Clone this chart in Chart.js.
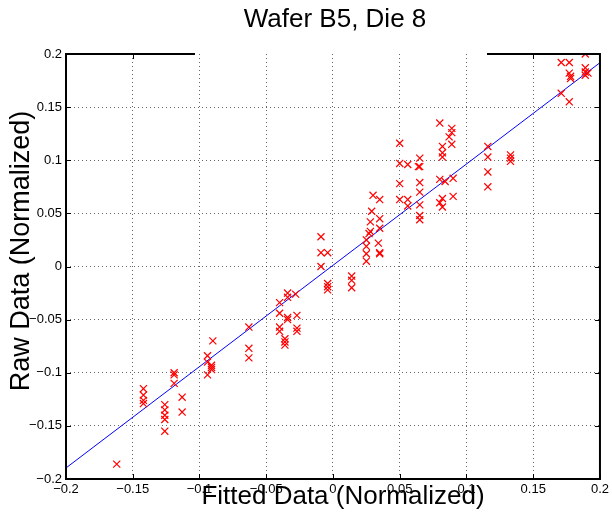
<!DOCTYPE html>
<html>
<head>
<meta charset="utf-8">
<title>Wafer B5, Die 8</title>
<script src="https://cdn.jsdelivr.net/npm/chart.js@4/dist/chart.umd.min.js"></script>
<style>
  html, body { margin: 0; padding: 0; background: #fff; }
  canvas { display: block; }
</style>
</head>
<body>
<canvas id="chart" width="612" height="518"></canvas>
<script>
// fitted (x) vs raw (y) values
const fittedX = [
  -0.162,
  -0.142, -0.142, -0.142, -0.142,
  -0.126, -0.126, -0.126, -0.126, -0.126,
  -0.119, -0.119, -0.119,
  -0.113, -0.113,
  -0.094, -0.094, -0.094,
  -0.091, -0.091, -0.091,
  -0.090,
  -0.063, -0.063, -0.063,
  -0.040, -0.040, -0.040, -0.040,
  -0.036, -0.036, -0.036,
  -0.034, -0.034, -0.034, -0.034,
  -0.028,
  -0.027, -0.027, -0.027,
  -0.009, -0.009, -0.009,
  -0.004, -0.004, -0.004, -0.004,
  0.014, 0.014, 0.014,
  0.025, 0.025, 0.025, 0.025,
  0.027, 0.028, 0.028, 0.029, 0.030,
  0.034, 0.035, 0.035,
  0.035, 0.035, 0.035,
  0.050, 0.050, 0.050, 0.050,
  0.056, 0.056, 0.056,
  0.064,
  0.065, 0.065, 0.065, 0.065, 0.065, 0.065, 0.065,
  0.080, 0.080, 0.080,
  0.082, 0.082, 0.082, 0.082, 0.082,
  0.084, 0.087,
  0.089, 0.089, 0.089,
  0.090, 0.090,
  0.116, 0.116, 0.116, 0.116,
  0.133, 0.133, 0.133,
  0.171, 0.171,
  0.177, 0.177, 0.177,
  0.178, 0.178,
  0.189, 0.189, 0.189, 0.189,
  0.191
]
const rawY = [
  -0.186,
  -0.115, -0.121, -0.126, -0.129,
  -0.130, -0.135, -0.140, -0.144, -0.155,
  -0.100, -0.102, -0.110,
  -0.123, -0.137,
  -0.084, -0.090, -0.102,
  -0.093, -0.095, -0.097,
  -0.070,
  -0.057, -0.077, -0.086,
  -0.034, -0.044, -0.057, -0.061,
  -0.068, -0.071, -0.074,
  -0.025, -0.029, -0.048, -0.050,
  -0.026,
  -0.046, -0.058, -0.061,
  0.028, 0.013, 0.000,
  0.013, -0.016, -0.019, -0.022,
  -0.009, -0.013, -0.020,
  0.025, 0.019, 0.012, 0.005,
  0.031, 0.033, 0.042, 0.052, 0.067,
  0.022, 0.012, 0.013,
  0.036, 0.045, 0.063,
  0.116, 0.097, 0.078, 0.063,
  0.096, 0.063, 0.057,
  0.094,
  0.102, 0.094, 0.079, 0.070, 0.058, 0.048, 0.044,
  0.135, 0.082, 0.060,
  0.113, 0.107, 0.103, 0.064, 0.056,
  0.080, 0.122,
  0.130, 0.126, 0.115,
  0.083, 0.066,
  0.113, 0.103, 0.089, 0.075,
  0.105, 0.102, 0.099,
  0.163, 0.192,
  0.155, 0.192, 0.182,
  0.179, 0.177,
  0.200, 0.187, 0.183, 0.180,
  0.182
]
const fitLineX = [-0.2, 0.2]
const fitLineY = [-0.1896, 0.1918]

const xTickLabels = ['\u22120.2', '\u22120.15', '\u22120.1', '\u22120.05', '0', '0.05', '0.1', '0.15', '0.2']
const yTickLabels = ['\u22120.2', '\u22120.15', '\u22120.1', '\u22120.05', '0', '0.05', '0.1', '0.15', '0.2']

const FONT = "'Liberation Sans', Arial, sans-serif"
Chart.defaults.font.family = FONT
Chart.defaults.color = '#000'

const isEdge = v => Math.abs(Math.abs(v) - 0.2) < 1e-9
const gridColor = ctx => isEdge(ctx.tick.value) ? 'rgba(0,0,0,0)' : 'rgba(0,0,0,0.6)'

// matlab-ish box with inward ticks, title and the two big axis labels that overlap the tick text
const frame = {
  id: 'frame',
  afterDraw(chart) {
    const { ctx, chartArea: a, scales: { x, y } } = chart
    const topSegs = [[a.left, 195], [487, a.right]]
    ctx.save()
    ctx.strokeStyle = '#000'
    ctx.lineWidth = 2
    ctx.beginPath()
    ctx.moveTo(a.left, a.top - 1)
    ctx.lineTo(a.left, a.bottom)
    ctx.lineTo(a.right, a.bottom)
    ctx.lineTo(a.right, a.top - 1)
    topSegs.forEach(s => { ctx.moveTo(s[0], a.top); ctx.lineTo(s[1], a.top) })
    ctx.stroke()

    ctx.lineWidth = 1
    ctx.beginPath()
    x.ticks.forEach(t => {
      const px = Math.round(x.getPixelForValue(t.value)) + 0.5
      ctx.moveTo(px, a.bottom); ctx.lineTo(px, a.bottom - 5)
      if (topSegs.some(s => px >= s[0] && px <= s[1])) {
        ctx.moveTo(px, a.top); ctx.lineTo(px, a.top + 5)
      }
    })
    y.ticks.forEach(t => {
      const py = Math.round(y.getPixelForValue(t.value)) + 0.5
      ctx.moveTo(a.left, py); ctx.lineTo(a.left + 5, py)
      ctx.moveTo(a.right, py); ctx.lineTo(a.right - 5, py)
    })
    ctx.stroke()

    ctx.fillStyle = '#000'
    ctx.textAlign = 'center'
    ctx.textBaseline = 'alphabetic'
    ctx.font = '26px ' + FONT
    ctx.fillText('Wafer B5, Die 8', 335, 27)
    ctx.fillText('Fitted Data (Normalized)', 343, 504)
    ctx.font = '27px ' + FONT
    ctx.translate(29, 251)
    ctx.rotate(-Math.PI / 2)
    ctx.fillText('Raw Data (Normalized)', 0, 0)
    ctx.restore()
  }
}

const axis = (labels, extra) => Object.assign({
  type: 'linear',
  min: -0.2,
  max: 0.2,
  grid: { color: gridColor, lineWidth: 1, drawTicks: false },
  border: { display: false, dash: [1, 3] },
  ticks: {
    stepSize: 0.05,
    autoSkip: false,
    maxRotation: 0,
    font: { size: 13 },
    color: '#000',
    callback: (v, i) => labels[i]
  }
}, extra)

new Chart(document.getElementById('chart'), {
  type: 'scatter',
  data: {
    datasets: [
      {
        label: 'data',
        data: fittedX.map((v, i) => ({ x: v, y: rawY[i] })),
        pointStyle: 'crossRot',
        pointRadius: 5,
        pointBorderWidth: 1.2,
        borderColor: '#ff0000',
        backgroundColor: '#ff0000'
      },
      {
        label: 'fit',
        data: fitLineX.map((v, i) => ({ x: v, y: fitLineY[i] })),
        showLine: true,
        pointRadius: 0,
        borderColor: '#0000ff',
        borderWidth: 1
      }
    ]
  },
  options: {
    responsive: false,
    devicePixelRatio: 1,
    animation: false,
    layout: { padding: { left: 0, right: 3, top: 54, bottom: 0 } },
    plugins: {
      legend: { display: false },
      tooltip: { enabled: false },
      title: { display: false }
    },
    scales: {
      x: axis(xTickLabels, {
        position: 'bottom',
        ticks: Object.assign(axis(xTickLabels).ticks, { padding: 3 }),
        afterFit: s => { s.height = 39 }
      }),
      y: axis(yTickLabels, {
        position: 'left',
        ticks: Object.assign(axis(yTickLabels).ticks, { padding: 4 }),
        afterFit: s => { s.width = 66 }
      })
    }
  },
  plugins: [frame]
})
</script>
</body>
</html>
